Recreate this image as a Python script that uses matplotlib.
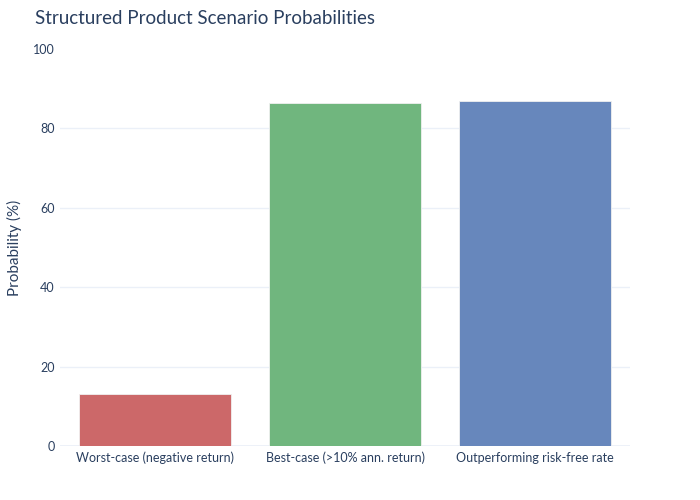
import matplotlib.pyplot as plt

scenarios = ['Worst-case (negative return)', 'Best-case (>10% ann. return)', 'Outperforming risk-free rate']
probabilities = [13.0, 86.5, 86.8]
bar_colors = ['#CC6869', '#70B67E', '#6787BC']
yticks = [0, 20, 40, 60, 80, 100]

text_color = '#2a3f5f'
plt.rcParams['font.family'] = ['Lato', 'DejaVu Sans']

fig = plt.figure(figsize=(7, 5), dpi=100)
ax = fig.add_axes([60 / 700, 54 / 500, 570 / 700, 397 / 500])

x = range(len(scenarios))
ax.bar(x, probabilities, width=0.8, color=bar_colors, edgecolor='#f0f0f0', linewidth=0.6, zorder=3)

ax.set_xlim(-0.5, 2.5)
ax.set_ylim(0, 100)
ax.set_xticks(list(x))
ax.set_xticklabels(scenarios, fontsize=9, color=text_color)
ax.set_yticks(yticks)
ax.set_yticklabels([str(t) for t in yticks], fontsize=9, color=text_color)
ax.tick_params(length=0, pad=4)

for t in yticks[1:-1]:
    ax.axhline(t, color='#EBF0F8', linewidth=1, zorder=1)
ax.axhline(0, color='#EBF0F8', linewidth=2, zorder=2)

for side in ax.spines.values():
    side.set_visible(False)

ax.set_ylabel('Probability (%)', fontsize=11, color=text_color, labelpad=8)
fig.text(35 / 700, 1 - 18 / 500, 'Structured Product Scenario Probabilities',
         fontsize=13.5, color=text_color, va='center', ha='left')

fig.savefig('out.png', dpi=100)
